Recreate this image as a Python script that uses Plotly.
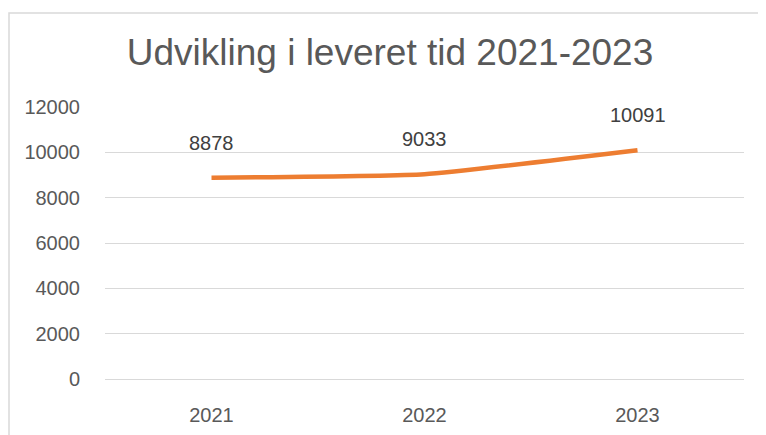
import plotly.graph_objects as go

years = ["2021", "2022", "2023"]
values = [8878, 9033, 10091]
y_ticks = [0, 2000, 4000, 6000, 8000, 10000, 12000]
title = "Udvikling i leveret tid 2021-2023"

fig = go.Figure()
fig.add_trace(go.Scatter(
    x=years, y=values, mode="lines",
    line=dict(color="#ED7D31", width=4.5, shape="spline", smoothing=0.4),
    hoverinfo="skip", showlegend=False,
))
for i, v in enumerate(values):
    fig.add_annotation(x=i, y=v, text=str(v), showarrow=False, yshift=35,
                       font=dict(family="Liberation Sans", size=20, color="#404040"))

# plot area: page x 105..744, page y 107..379 (page has 8px offset)
fig.add_shape(type="rect", xref="paper", yref="paper",
              x0=(9 - 105) / 639, x1=1.2, y0=-0.4, y1=(379 - 13) / 272,
              line=dict(color="#D9D9D9", width=1.5), fillcolor="rgba(0,0,0,0)", layer="below")

fig.update_layout(
    width=766, height=435,
    margin=dict(l=97, r=30, t=99, b=64),
    paper_bgcolor="white", plot_bgcolor="white",
    title=dict(text=title, x=0.4987, xanchor="center", y=0.899, yanchor="middle",
               font=dict(family="Liberation Sans", size=37, color="#595959")),
    xaxis=dict(type="category", range=[-0.5, 2.5], showgrid=False, showline=False, zeroline=False,
               ticks="outside", ticklen=18, tickcolor="rgba(0,0,0,0)",
               tickfont=dict(family="Liberation Sans", size=20, color="#595959")),
    yaxis=dict(range=[0, 12000], tickvals=y_ticks, ticktext=[str(t) for t in y_ticks],
               showgrid=True, gridcolor="#D9D9D9", gridwidth=1.3, zeroline=True,
               zerolinecolor="#D9D9D9", zerolinewidth=1.3, showline=False,
               ticks="outside", ticklen=20, tickcolor="rgba(0,0,0,0)",
               tickfont=dict(family="Liberation Sans", size=20, color="#595959")),
)

fig.write_html("out.html")
